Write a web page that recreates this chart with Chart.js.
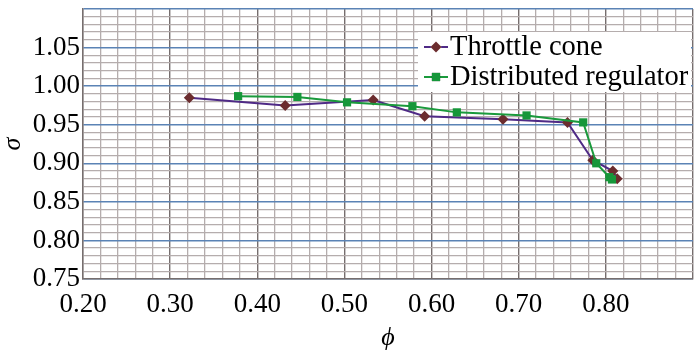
<!DOCTYPE html>
<html>
<head>
<meta charset="utf-8">
<script src="https://cdn.jsdelivr.net/npm/chart.js@4/dist/chart.umd.min.js"></script>
<style>
  html, body { margin: 0; padding: 0; background: #fff; }
  #wrap { width: 700px; height: 353px; position: relative; }
</style>
</head>
<body>
<div id="wrap"><canvas id="c" width="700" height="353"></canvas></div>
<script>
// ---- data ----
const throttleLabel = 'Throttle cone';
const throttlePhi   = [0.322, 0.432, 0.533, 0.592, 0.682, 0.756, 0.785, 0.808, 0.813];
const throttleSigma = [0.985, 0.975, 0.982, 0.961, 0.957, 0.953, 0.904, 0.890, 0.880];

const regulatorLabel = 'Distributed regulator';
const regulatorPhi   = [0.378, 0.446, 0.503, 0.578, 0.629, 0.709, 0.774, 0.789, 0.804, 0.807];
const regulatorSigma = [0.987, 0.986, 0.979, 0.974, 0.966, 0.962, 0.953, 0.900, 0.882, 0.879];

const xTickLabels = ['0.20', '0.30', '0.40', '0.50', '0.60', '0.70', '0.80'];
const yTickLabels = ['0.75', '0.80', '0.85', '0.90', '0.95', '1.00', '1.05'];
const xTitle = 'ϕ';
const yTitle = 'σ';

// ---- scale ranges / grid steps ----
const xMin = 0.20, xMax = 0.90, xMinorStep = 0.02;
const yMin = 0.75, yMax = 1.10, yMinorStep = 0.01;

function stepsBetween(a, b, s) {
  const out = [];
  const n = Math.round((b - a) / s);
  for (let i = 0; i <= n; i++) out.push(+(a + i * s).toFixed(4));
  return out;
}
const xGridValues = stepsBetween(xMin, xMax, xMinorStep);
const yGridValues = stepsBetween(yMin, yMax, yMinorStep);

const isMultiple = (v, m) => Math.abs(v / m - Math.round(v / m)) < 1e-6;

const toPoints = (xs, ys) => xs.map((x, i) => ({ x: x, y: ys[i] }));

const serif = "'Liberation Serif', 'Times New Roman', serif";

const legendPlugin = {
  id: 'insideLegend',
  afterDraw(chart) {
    const ctx = chart.ctx;
    const bx = 418, by = 32, bw = 273, bh = 60;
    ctx.save();
    ctx.fillStyle = '#ffffff';
    ctx.fillRect(bx, by, bw, bh);
    ctx.font = "28.5px " + serif;
    ctx.textBaseline = 'middle';
    ctx.textAlign = 'left';
    const rows = [47, 77];
    chart.data.datasets.forEach((ds, i) => {
      const y = rows[i];
      ctx.strokeStyle = ds.borderColor;
      ctx.lineWidth = 2;
      ctx.beginPath();
      ctx.moveTo(424, y);
      ctx.lineTo(448, y);
      ctx.stroke();
      Chart.helpers.drawPoint(ctx, {
        pointStyle: ds.pointStyle, radius: ds.pointRadius, borderWidth: 0
      }, 436, y);
      ctx.fillStyle = ds.pointBackgroundColor;
      ctx.fill();
      ctx.fillStyle = '#000';
      ctx.fillText(ds.label, 450, y + 1);
    });
    ctx.restore();
  }
};

new Chart(document.getElementById('c'), {
  type: 'scatter',
  data: {
    datasets: [
      {
        label: throttleLabel,
        data: toPoints(throttlePhi, throttleSigma),
        showLine: true,
        borderColor: '#4f2a86',
        borderWidth: 2,
        pointStyle: 'rectRot',
        pointRadius: 5.5,
        pointBackgroundColor: '#6b2c2e',
        pointBorderColor: '#6b2c2e',
        pointBorderWidth: 0,
        order: 1
      },
      {
        label: regulatorLabel,
        data: toPoints(regulatorPhi, regulatorSigma),
        showLine: true,
        borderColor: '#1a9a3c',
        borderWidth: 2,
        pointStyle: 'rect',
        pointRadius: 5.8,
        pointBackgroundColor: '#16973a',
        pointBorderColor: '#16973a',
        pointBorderWidth: 0,
        order: 0
      }
    ]
  },
  options: {
    responsive: false,
    animation: false,
    events: [],
    layout: { padding: { top: 9, right: 7, left: 0, bottom: 0 } },
    plugins: {
      legend: { display: false },
      tooltip: { enabled: false }
    },
    scales: {
      x: {
        type: 'linear',
        min: xMin, max: xMax,
        afterBuildTicks: (s) => { s.ticks = xGridValues.map(v => ({ value: v })); },
        afterFit: (s) => { s.height = 74; s.paddingLeft = 0; s.paddingRight = 0; },
        ticks: {
          autoSkip: false,
          maxRotation: 0,
          padding: 10,
          color: '#000',
          font: { family: serif, size: 27 },
          callback: (v) => {
            const t = (+v).toFixed(2);
            return xTickLabels.includes(t) ? t : '';
          }
        },
        grid: {
          drawTicks: false,
          color: (c) => isMultiple(c.tick.value, 0.1) ? '#766e6e' : '#b5adad',
          lineWidth: (c) => isMultiple(c.tick.value, 0.1) ? 1.4 : 1.3
        },
        border: { display: true, color: '#766e6e', width: 1.4 },
        title: {
          display: true, text: xTitle, color: '#000',
          font: { family: serif, size: 26, style: 'italic', lineHeight: 1 },
          padding: { top: 2, bottom: 2 }
        }
      },
      y: {
        type: 'linear',
        min: yMin, max: yMax,
        afterBuildTicks: (s) => { s.ticks = yGridValues.map(v => ({ value: v })); },
        afterFit: (s) => { s.width = 83; s.paddingTop = 0; s.paddingBottom = 0; },
        ticks: {
          autoSkip: false,
          padding: 3,
          color: '#000',
          font: { family: serif, size: 27 },
          callback: (v) => {
            const t = (+v).toFixed(2);
            return yTickLabels.includes(t) ? t : '';
          }
        },
        grid: {
          drawTicks: false,
          color: (c) => isMultiple(c.tick.value, 0.05) ? '#5b83b5' : '#b5adad',
          lineWidth: (c) => isMultiple(c.tick.value, 0.05) ? 1.5 : 1.3
        },
        border: { display: true, color: '#766e6e', width: 1.4 },
        title: {
          display: true, text: yTitle, color: '#000',
          font: { family: serif, size: 26, style: 'italic', lineHeight: 1 },
          padding: { top: 0, bottom: 0 }
        }
      }
    }
  },
  plugins: [legendPlugin]
});
</script>
</body>
</html>
